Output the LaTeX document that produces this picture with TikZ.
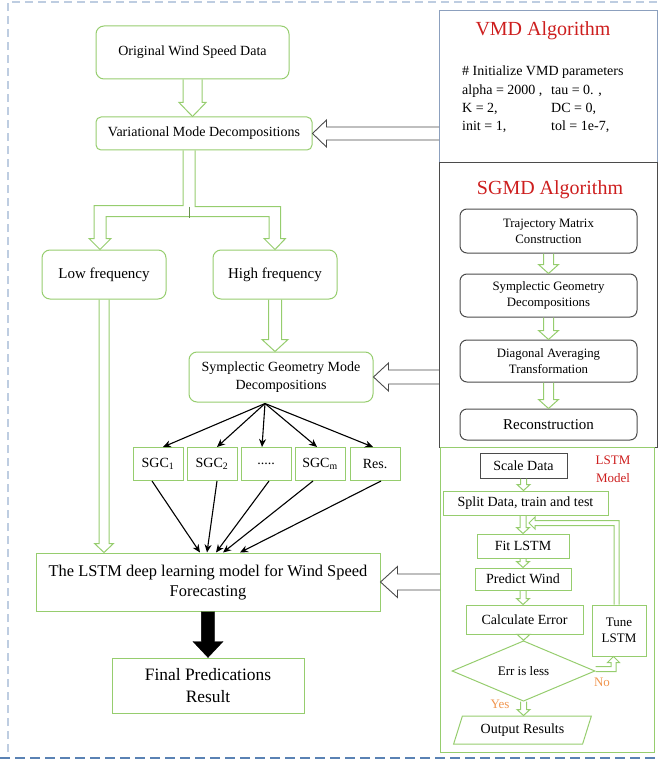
\documentclass[tikz,border=0pt]{standalone}
\usepackage{fontspec}
\setmainfont{Liberation Serif}
\usepackage{xcolor}
\usepackage{tikz}
\usetikzlibrary{arrows.meta,shapes.geometric,calc}

\definecolor{lgreen}{RGB}{150,205,110}
\definecolor{dgray}{RGB}{75,75,75}
\definecolor{vmdframe}{RGB}{140,160,190}
\definecolor{titlered}{RGB}{205,30,30}
\definecolor{noorange}{RGB}{240,150,80}
\definecolor{framelight}{RGB}{190,205,225}
\definecolor{framedark}{RGB}{90,130,180}

% block arrow: [style]{tail}{tip}{shaft half width}{head half width}{head length}
\newcommand{\blockarrow}[6][pipe]{%
  \draw[#1] ($(#2)!#4!90:(#3)$) -- ($(#3)!#6!(#2)!#4!-90:(#2)$)
    -- ($(#3)!#6!(#2)!#5!-90:(#2)$) -- (#3)
    -- ($(#3)!#6!(#2)!#5!90:(#2)$) -- ($(#3)!#6!(#2)!#4!90:(#2)$)
    -- ($(#2)!#4!-90:(#3)$);}

\begin{document}
\begin{tikzpicture}[x=1pt, y=-1pt,
  gbox/.style={draw=lgreen, line width=1pt, align=center, inner sep=1pt,
               font=\fontsize{14}{18}\selectfont},
  rgbox/.style={gbox, rounded corners=8pt},
  sgcbox/.style={gbox, minimum width=50pt, minimum height=33pt},
  kbox/.style={draw=dgray, line width=1pt, rounded corners=7pt, align=center,
               inner sep=1pt, minimum width=177pt, font=\fontsize{12.8}{16}\selectfont},
  panel/.style={draw=#1, line width=1pt, inner sep=0pt, outer sep=0pt},
  title/.style={text=titlered, font=\fontsize{20}{24}\selectfont},
  note/.style={text=noorange, font=\fontsize{13}{15}\selectfont},
  pipe/.style={draw=lgreen, line width=1pt},
  gpipe/.style={draw=dgray, line width=0.9pt},
  link/.style={-{Stealth[length=8pt, width=7pt]}, line width=1.1pt}
]
  \useasboundingbox (0,0) rectangle (658,762);

  % outer frame
  \draw[framelight, line width=1.5pt, dash pattern=on 8pt off 5pt] (8,752) -- (8,2) -- (658,2);
  \draw[framedark, line width=1.8pt, dash pattern=on 10pt off 5pt] (0,758) -- (658,758);

  % right panels
  \node[panel=vmdframe, minimum width=218pt, minimum height=152pt] (vmdalg) at (548,87) {};
  \node[panel=dgray, minimum width=218pt, minimum height=284pt] (sgmdalg) at (548,305) {};
  \node[panel=lgreen, minimum width=214pt, minimum height=305pt] (lstmalg) at (547,599.5) {};

  % main flow
  \node[rgbox, minimum width=193pt, minimum height=53pt] (orig) at (192.5,52.5) {Original Wind Speed Data};
  \node[rgbox, rounded corners=5pt, minimum width=216pt, minimum height=33pt] (vmdd) at (204,133.5)
    {Variational Mode Decompositions};
  \node[rgbox, minimum width=124pt, minimum height=49pt, font=\fontsize{15}{18}\selectfont] (low) at (104,274.5) {Low frequency};
  \node[rgbox, minimum width=124pt, minimum height=49pt, font=\fontsize{15}{18}\selectfont] (high) at (275,274.5) {High frequency};
  \node[rgbox, minimum width=184pt, minimum height=50pt] (sgmdd) at (281,377)
    {Symplectic Geometry Mode\\Decompositions};

  \node[sgcbox] (sgc1) at (158,464) {SGC\textsubscript{1}};
  \node[sgcbox] (sgc2) at (212,464) {SGC\textsubscript{2}};
  \node[sgcbox] (sgc3) at (266,464) {.....};
  \node[sgcbox] (sgc4) at (320,464) {SGC\textsubscript{m}};
  \node[sgcbox] (sgc5) at (375,464) {Res.};

  \node[gbox, minimum width=344pt, minimum height=58pt, font=\fontsize{16.4}{20}\selectfont] (lstm) at (208,582)
    {The LSTM deep learning model for Wind Speed\\Forecasting};
  \node[gbox, minimum width=192pt, minimum height=55pt, font=\fontsize{17.4}{22}\selectfont] (final) at (208,685.5)
    {Final Predications\\Result};

  % VMD panel
  \node[title] (vmdtitle) at (543,31) {VMD Algorithm};
  \node[anchor=west, inner sep=0pt, font=\fontsize{14}{18.3}\selectfont] (vmdpar) at (462,99.5)
    {\begin{tabular}{@{}p{89pt}@{}l@{}}
      \multicolumn{2}{@{}l@{}}{\# Initialize VMD parameters}\\
      alpha = 2000 , & tau = 0. ,\\
      K = 2, & DC = 0,\\
      init = 1, & tol = 1e-7,
    \end{tabular}};

  % SGMD panel
  \node[title] (sgmdtitle) at (550,190) {SGMD Algorithm};
  \node[kbox, minimum height=44pt] (traj) at (548.5,231) {Trajectory Matrix\\Construction};
  \node[kbox, minimum height=43pt] (sgd) at (548.5,295.5) {Symplectic Geometry\\Decompositions};
  \node[kbox, minimum height=42pt] (diag) at (548.5,361) {Diagonal Averaging\\Transformation};
  \node[kbox, minimum height=31pt, font=\fontsize{15}{18}\selectfont] (rec) at (548.5,424.5) {Reconstruction};

  % LSTM panel
  \node[text=titlered, align=center, font=\fontsize{13}{18}\selectfont] (lstmtitle) at (613,469) {LSTM\\Model};
  \node[gbox, draw=dgray, minimum width=87pt, minimum height=25pt] (scale) at (523.5,465.5) {Scale Data};
  \node[gbox, minimum width=165pt, minimum height=24pt] (split) at (525.5,503) {Split Data, train and test};
  \node[gbox, minimum width=92pt, minimum height=24pt] (fit) at (523,546) {Fit LSTM};
  \node[gbox, minimum width=96pt, minimum height=22pt] (pred) at (523,579) {Predict Wind};
  \node[gbox, minimum width=117pt, minimum height=29pt] (err) at (524.5,619.5) {Calculate Error};
  \node[gbox, minimum width=54pt, minimum height=51pt, font=\fontsize{13}{16}\selectfont] (tune) at (619,630.5) {Tune\\LSTM};
  \node[gbox, diamond, inner sep=0pt, minimum width=143pt, minimum height=52pt,
        font=\fontsize{13}{15}\selectfont] (dia) at (523.5,671) {Err is less};
  \node[gbox, trapezium, trapezium left angle=67, trapezium right angle=113, trapezium stretches=true,
        minimum width=139pt, minimum height=28pt] (out) at (522.5,730) {Output Results};
  \node[note] (yes) at (500,704) {Yes};
  \node[note] (no) at (602,682) {No};

  % hollow arrows of the main flow
  \blockarrow{orig.south}{orig.south |- vmdd.north}{9.5pt}{13.5pt}{14pt}
  \draw[pipe] ($(vmdd.south)+(-21,0)$) |- ($(low.north)+(-10,-44)$) -- ++(0,33) -- ++(-5,0)
    -- ($(low.north)+(-4,0)$) -- ++(11,-11) -- ++(-5,0) |- ($(high.north)+(-6,-33)$) -- ++(0,22)
    -- ++(-5,0) -- (high.north) -- ++(10.5,-11) -- ++(-5,0) |- ($(vmdd.south)+(-9,56)$)
    -- ($(vmdd.south)+(-9,0)$);
  \draw[pipe, draw=lgreen!70!black] ($(vmdd.south)+(-15,56)$) -- ++(0,11);
  \blockarrow{low.south}{low.south |- lstm.north}{5pt}{9.5pt}{9pt}
  \blockarrow{high.south}{high.south |- sgmdd.north}{6.5pt}{13pt}{12pt}
  \blockarrow[draw=black, fill=black]{lstm.south}{final.north}{6.7pt}{15pt}{16pt}

  % from the panels
  \blockarrow[gpipe]{vmdalg.west |- vmdd.east}{vmdd.east}{6.5pt}{13.5pt}{14pt}
  \blockarrow[gpipe]{sgmdalg.west |- sgmdd.east}{sgmdd.east}{7pt}{14pt}{15pt}
  \blockarrow[gpipe]{lstmalg.west |- lstm.east}{lstm.east}{8pt}{15.5pt}{17pt}

  % components
  \coordinate (fan) at ($(sgmdd.south)+(-16,1)$);
  \draw[link] (fan) -- ($(sgc1.north)+(5,0)$);
  \draw[link] (fan) -- ($(sgc2.north)+(5,0)$);
  \draw[link] (fan) -- ($(sgc3.north)+(-4,0)$);
  \draw[link] (fan) -- ($(sgc4.north)+(-3,0)$);
  \draw[link] (fan) -- ($(sgc5.north)+(-2,0)$);
  \draw[link] ($(sgc1.south)+(-6,0)$) -- ($(lstm.north)+(-8,0)$);
  \draw[link] ($(sgc2.south)+(5,0)$) -- ($(lstm.north)+(-1,0)$);
  \draw[link] ($(sgc3.south)+(3,0)$) -- ($(lstm.north)+(8,0)$);
  \draw[link] ($(sgc4.south)+(-7,0)$) -- ($(lstm.north)+(15,0)$);
  \draw[link] ($(sgc5.south)+(6,0)$) -- ($(lstm.north)+(32,0)$);

  % SGMD steps
  \blockarrow{traj.south}{sgd.north}{5pt}{10pt}{9pt}
  \blockarrow{sgd.south}{diag.north}{5pt}{10pt}{9pt}
  \blockarrow{diag.south}{rec.north}{5pt}{10pt}{9pt}

  % LSTM steps
  \blockarrow{scale.south}{scale.south |- split.north}{3pt}{6.5pt}{6pt}
  \blockarrow{fit.north |- split.south}{fit.north}{3pt}{6.5pt}{6pt}
  \blockarrow{fit.south}{pred.north}{3pt}{6.5pt}{6pt}
  \blockarrow{pred.south}{pred.south |- err.north}{3pt}{6.5pt}{6pt}
  \blockarrow{dia.north |- err.south}{dia.north}{3pt}{6.5pt}{6pt}
  \blockarrow{dia.south}{dia.south |- out.north}{3pt}{6.5pt}{6pt}
  \draw[pipe] (tune.north) |- ($(tune.north)+(-84,-84)$) -- ++(0,-3.5)
    -- ($(tune.north)+(-90,-81.5)$) -- ++(6,6) -- ++(0,-3.5) -| ($(tune.north)+(-5,0)$);
  \draw[pipe] ($(dia.east)+(0,0.5)$) -| ($(tune.south)+(-3,6)$) -- ++(3.5,0)
    -- ($(tune.south)+(-5.5,0)$) -- ++(-6,6) -- ++(3.5,0) |- ($(dia.east)+(0,-4.5)$);
\end{tikzpicture}
\end{document}
